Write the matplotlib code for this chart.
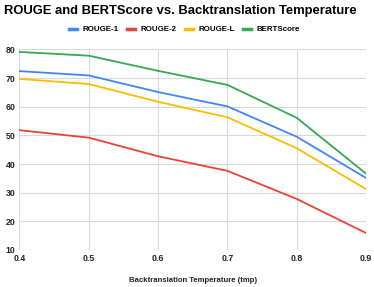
import matplotlib.pyplot as plt

temps = [0.4, 0.5, 0.6, 0.7, 0.8, 0.9]
rouge1 = [72.4, 70.9, 65.1, 60.1, 49.5, 35.1]
rouge2 = [51.8, 49.2, 42.7, 37.6, 27.8, 15.9]
rougeL = [69.7, 67.9, 61.7, 56.3, 45.5, 31.2]
bertscore = [79.1, 77.8, 72.5, 67.6, 56.1, 36.6]

series = [("ROUGE-1", rouge1, "#4285F4"),
          ("ROUGE-2", rouge2, "#EA4335"),
          ("ROUGE-L", rougeL, "#FBBC04"),
          ("BERTScore", bertscore, "#34A853")]

plt.rcParams['font.family'] = ['Liberation Sans', 'DejaVu Sans']

fig = plt.figure(figsize=(3.74, 2.87), dpi=100)
ax = fig.add_axes([0.052, 0.129, 0.927, 0.699])

for name, vals, col in series:
    ax.plot(temps, vals, color=col, lw=1.3, label=name)

ax.set_xlim(0.4, 0.9)
ax.set_ylim(10, 80)
ax.set_xticks(temps)
ax.set_yticks(range(10, 81, 10))
ax.grid(True, color="#d9d9d9", lw=0.8)
ax.set_axisbelow(True)
for s in ax.spines.values():
    s.set_visible(False)
ax.tick_params(length=0, labelsize=6.3, pad=3)
for lab in ax.get_xticklabels() + ax.get_yticklabels():
    lab.set_fontweight("bold")
    lab.set_color("#222222")
ax.set_xlabel("Backtranslation Temperature (tmp)", fontsize=5.6,
              fontweight="bold", labelpad=10, color="#222222")

fig.text(0.012, 0.962, "ROUGE and BERTScore vs. Backtranslation Temperature",
         fontsize=9.4, fontweight="bold", va="center", ha="left")
fig.legend(loc="center", bbox_to_anchor=(0.493, 0.897), ncol=4, frameon=False,
           handlelength=1.0, columnspacing=1.05, handletextpad=0.7,
           prop={"weight": "bold", "size": 5.7})
leg = fig.legends[0]
for h in leg.get_lines():
    h.set_linewidth(2.5)

fig.savefig("out.png", dpi=100)
